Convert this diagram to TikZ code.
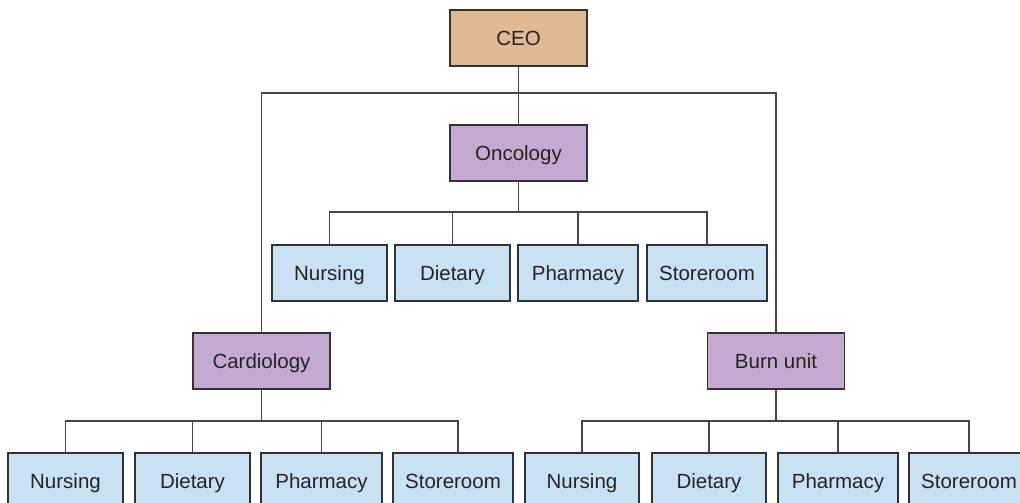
\documentclass[tikz,border=0pt]{standalone}
\usepackage{fontspec}
\setmainfont{Liberation Sans}
\definecolor{ceofill}{RGB}{222,185,145}
\definecolor{deptfill}{RGB}{196,170,208}
\definecolor{unitfill}{RGB}{200,226,244}
\definecolor{edge}{RGB}{50,50,50}
\definecolor{wire}{RGB}{70,70,70}
\definecolor{txt}{RGB}{35,35,35}
\tikzset{
  box/.style={draw=edge, line width=1.4pt, minimum height=56pt, inner sep=0pt,
    text height=14.7pt, text depth=0pt,
    font=\fontsize{20.5}{24}\selectfont, text=txt},
  ceobox/.style={box, fill=ceofill, minimum width=137pt},
  deptbox/.style={box, fill=deptfill, minimum width=137pt},
  unitbox/.style={box, fill=unitfill},
  wire/.style={draw=wire, line width=1.5pt}
}
\begin{document}
\begin{tikzpicture}[x=1pt,y=-1pt]
\useasboundingbox (0,0) rectangle (1020,503);
\clip (0,0) rectangle (1020,503);
% top
\node[ceobox] (ceo) at (518.5,38) {CEO};
\node[deptbox] (onc) at (518.5,153) {Oncology};
\node[deptbox] (car) at (261.5,361) {Cardiology};
\node[deptbox] (bur) at (776,361) {Burn unit};
% oncology units
\node[unitbox, minimum width=115pt] (o1) at (329.5,273) {Nursing};
\node[unitbox, minimum width=115pt] (o2) at (452.5,273) {Dietary};
\node[unitbox, minimum width=120pt] (o3) at (578,273) {Pharmacy};
\node[unitbox, minimum width=120pt] (o4) at (707,273) {Storeroom};
% cardiology units
\node[unitbox, minimum width=115pt] (c1) at (65.5,481) {Nursing};
\node[unitbox, minimum width=115pt] (c2) at (192.5,481) {Dietary};
\node[unitbox, minimum width=121pt] (c3) at (321.5,481) {Pharmacy};
\node[unitbox, minimum width=120pt] (c4) at (453,481) {Storeroom};
% burn unit units
\node[unitbox, minimum width=114pt] (b1) at (582,481) {Nursing};
\node[unitbox, minimum width=114pt] (b2) at (709,481) {Dietary};
\node[unitbox, minimum width=120pt] (b3) at (838,481) {Pharmacy};
\node[unitbox, minimum width=120pt] (b4) at (969,481) {Storeroom};
% connectors
\coordinate (j0) at (518.5,93);
\coordinate (j1) at (518.5,212);
\coordinate (j2) at (261.5,421);
\coordinate (j3) at (776,421);
\draw[wire] (ceo.south) -- (onc.north);
\draw[wire] (car.north) |- (j0) -| (bur.north);
\draw[wire] (onc.south) -- (j1);
\draw[wire] (o1.north) |- (j1) -| (o4.north);
\draw[wire] (o2.north) -- (o2.north |- j1);
\draw[wire] (o3.north) -- (o3.north |- j1);
\draw[wire] (car.south) -- (j2);
\draw[wire] (c1.north) |- (j2) -| ([xshift=5pt]c4.north);
\draw[wire] (c2.north) -- (c2.north |- j2);
\draw[wire] (c3.north) -- (c3.north |- j2);
\draw[wire] (bur.south) -- (j3);
\draw[wire] (b1.north) |- (j3) -| (b4.north);
\draw[wire] (b2.north) -- (b2.north |- j3);
\draw[wire] (b3.north) -- (b3.north |- j3);
\end{tikzpicture}
\end{document}
